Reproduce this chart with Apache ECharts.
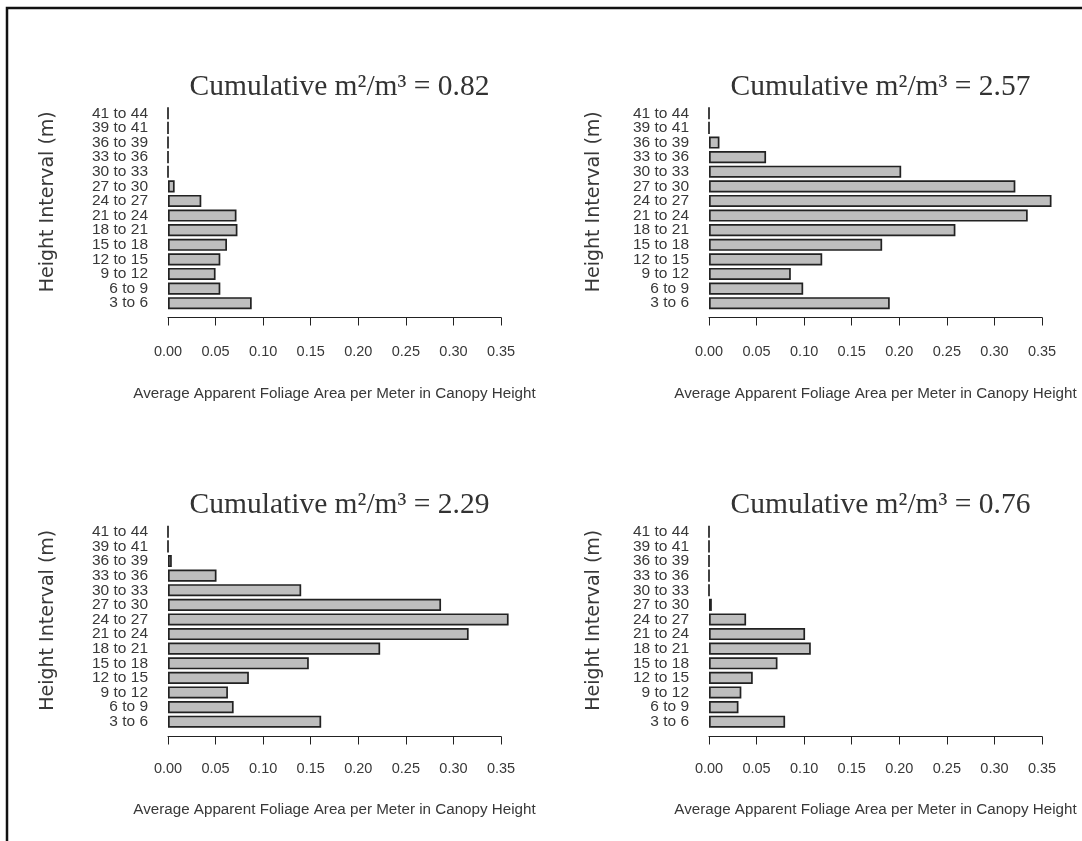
<!DOCTYPE html>
<html>
<head>
<meta charset="utf-8">
<style>
  html, body { margin: 0; padding: 0; background: #ffffff; }
  #chart { width: 1082px; height: 841px; }
</style>
<script src="https://cdn.jsdelivr.net/npm/echarts@6/dist/echarts.min.js"></script>
</head>
<body>
<div id="chart"></div>
<script>
// Height bins, listed bottom to top
const heightBins = ['3 to 6', '6 to 9', '9 to 12', '12 to 15', '15 to 18', '18 to 21', '21 to 24',
  '24 to 27', '27 to 30', '30 to 33', '33 to 36', '36 to 39', '39 to 41', '41 to 44'];

// Average apparent foliage area per metre of canopy height, per bin (bottom to top)
const standA = [0.088, 0.055, 0.050, 0.055, 0.062, 0.073, 0.072, 0.035, 0.007, 0, 0, 0, 0, 0];
const standB = [0.190, 0.099, 0.086, 0.119, 0.182, 0.259, 0.335, 0.360, 0.322, 0.202, 0.060, 0.011, 0, 0];
const standC = [0.161, 0.069, 0.063, 0.085, 0.148, 0.223, 0.316, 0.358, 0.287, 0.140, 0.051, 0.004, 0, 0];
const standD = [0.080, 0.031, 0.034, 0.046, 0.072, 0.107, 0.101, 0.039, 0.003, 0, 0, 0, 0, 0];

// Cumulative totals shown in the panel headings
const cumulative = ['0.82', '2.57', '2.29', '0.76'];

// Value-axis ticks
const xMin = 0, xMax = 0.35, xStep = 0.05;

const panels = [standA, standB, standC, standD];

// Panel geometry (grid boxes in pixels)
const gridBoxes = [
  { left: 168, right: 581, top: 106, height: 204.5, yNameGap: 110, axisOffset: 7,   labelMargin: 27, nameGap: 69 },
  { left: 709, right: 40,  top: 106, height: 204.5, yNameGap: 105, axisOffset: 7,   labelMargin: 27, nameGap: 69 },
  { left: 168, right: 581, top: 524.5, height: 204.5, yNameGap: 110, axisOffset: 7.5, labelMargin: 25, nameGap: 66 },
  { left: 709, right: 40,  top: 524.5, height: 204.5, yNameGap: 105, axisOffset: 7.5, labelMargin: 25, nameGap: 66 }
];

const sans = '"Liberation Sans", Arial, sans-serif';
const axisInk = '#222222';
const textInk = '#383838';

const grids = [], xAxes = [], yAxes = [], series = [], titles = [];

panels.forEach((vals, i) => {
  const g = gridBoxes[i];
  grids.push({
    left: g.left, right: g.right, top: g.top, height: g.height,
    containLabel: false, outerBoundsMode: 'none'
  });

  xAxes.push({
    type: 'value', gridIndex: i, min: xMin, max: xMax, interval: xStep,
    offset: g.axisOffset,
    axisLine: { show: true, lineStyle: { color: axisInk, width: 1 } },
    axisTick: { show: true, length: 8, lineStyle: { color: axisInk, width: 1 } },
    splitLine: { show: false },
    axisLabel: {
      margin: g.labelMargin, color: textInk, fontFamily: sans, fontSize: 14.5,
      formatter: v => v.toFixed(2)
    },
    name: 'Average Apparent Foliage Area per Meter in Canopy Height',
    nameLocation: 'middle', nameGap: g.nameGap,
    nameTextStyle: { color: textInk, fontFamily: sans, fontSize: 15.2 }
  });

  yAxes.push({
    type: 'category', gridIndex: i, data: heightBins,
    axisLine: { show: false }, axisTick: { show: false }, splitLine: { show: false },
    axisLabel: {
      margin: 20, color: textInk, fontFamily: sans, fontSize: 15.5,
      interval: 0
    },
    name: 'Height Interval (m)', nameLocation: 'middle', nameRotate: 90, nameGap: g.yNameGap,
    nameTextStyle: {
      color: textInk, fontFamily: '"DejaVu Sans", sans-serif', fontSize: 19,
      padding: [0, 0, 0, 13]
    }
  });

  series.push({
    type: 'bar', xAxisIndex: i, yAxisIndex: i, data: vals,
    barCategoryGap: '17%', clip: false, silent: true,
    itemStyle: { color: '#bebebe', borderColor: '#222222', borderWidth: 1.7 }
  });

  titles.push({
    text: 'Cumulative m²/m³ = ' + cumulative[i],
    left: g.left + (1082 - g.left - g.right) / 2, top: g.top - 39,
    textAlign: 'center',
    textStyle: { fontFamily: '"Liberation Serif", "Times New Roman", serif', fontWeight: 'normal', fontSize: 29.5, color: '#333333' }
  });
});

const chart = echarts.init(document.getElementById('chart'), null, { renderer: 'canvas' });
chart.setOption({
  backgroundColor: '#ffffff',
  animation: false,
  title: titles,
  grid: grids,
  xAxis: xAxes,
  yAxis: yAxes,
  series: series,
  graphic: [{
    type: 'rect', silent: true, z: 100,
    shape: { x: 7, y: 8, width: 1200, height: 1000 },
    style: { fill: 'none', stroke: '#111111', lineWidth: 2.5 }
  }]
});
</script>
</body>
</html>
